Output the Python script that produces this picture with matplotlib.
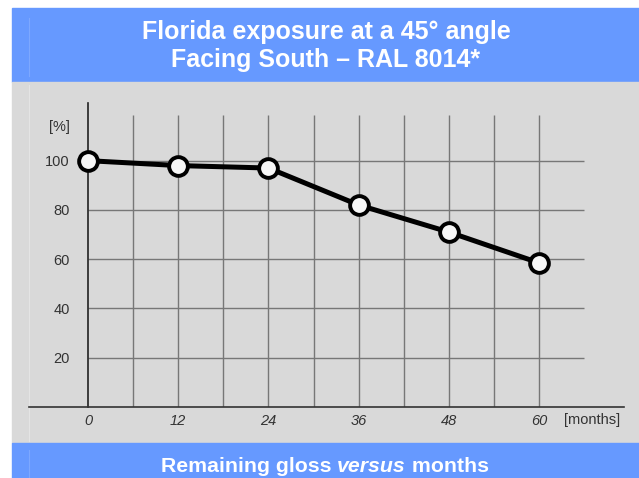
import matplotlib
matplotlib.use("Agg")
import matplotlib.pyplot as plt
from matplotlib.patches import Rectangle
from matplotlib.lines import Line2D

# data
months = [0, 12, 24, 36, 48, 60]
gloss = [100, 98, 97, 82, 71, 58.5]
x_grid = [6, 12, 18, 24, 30, 36, 42, 48, 54, 60]
y_grid = [20, 40, 60, 80, 100]
x_ticks = [0, 12, 24, 36, 48, 60]
y_ticks = [20, 40, 60, 80, 100]
title_lines = ["Florida exposure at a 45\u00b0 angle", "Facing South \u2013 RAL 8014*"]

W, H = 639, 478
BLUE = "#6699FF"
PANEL = "#D9D9D9"
plt.rcParams["font.family"] = ["Liberation Sans", "DejaVu Sans"]

fig = plt.figure(figsize=(W / 100, H / 100), dpi=100)
fig.patch.set_facecolor("white")


def fx(px):
    return px / W


def fy(py):
    return 1 - py / H


# background blocks (pixel based)
def block(x0, y0, x1, y1, color):
    fig.patches.append(Rectangle((fx(x0), fy(y1)), fx(x1) - fx(x0), fy(y0) - fy(y1),
                                 transform=fig.transFigure, color=color, zorder=-10))


block(12, 8, W, 82, BLUE)
block(12, 82, W, 443, PANEL)
block(12, 443, W, H, BLUE)
# faint guide lines seen on the slide
for y0, y1, c in [(18, 76, "#7DA8FF"), (85, 441, "#E4E4E4"), (450, H, "#7DA8FF")]:
    fig.lines.append(Line2D([fx(28.5), fx(28.5)], [fy(y0), fy(y1)],
                            transform=fig.transFigure, color=c, lw=0.8, zorder=-5))

# main axes: pixel box 29..624 x 103..407
ax = fig.add_axes([fx(29), fy(407), fx(624) - fx(29), fy(103) - fy(407)])
ax.set_facecolor("none")
ax.set_xlim(-7.85, 71.3)
ax.set_ylim(0, 123.4)
for s in ["top", "right"]:
    ax.spines[s].set_visible(False)
ax.spines["left"].set_position(("data", 0))
ax.spines["left"].set_color("#222222")
ax.spines["left"].set_linewidth(1.2)
ax.spines["bottom"].set_color("#333333")
ax.spines["bottom"].set_linewidth(1.2)

ax.vlines(x_grid, 0, 118.6, color="#777777", lw=1.0, zorder=1)
ax.hlines(y_grid, 0, 66, color="#777777", lw=1.0, zorder=1)

ax.plot(months, gloss, color="black", lw=3.6, marker="o", ms=13.5,
        mfc="#f7f7f7", mec="black", mew=2.8, zorder=3, clip_on=False)

ax.set_yticks(y_ticks)
ax.set_yticklabels([str(v) for v in y_ticks], fontsize=10.5, color="#333333")
ax.set_xticks(x_ticks)
ax.set_xticklabels([str(v) for v in x_ticks], fontsize=10.5, color="#333333", style="italic")
ax.tick_params(axis="y", length=0, pad=13)
ax.tick_params(axis="x", length=0, pad=5)
ax.get_xticklabels()[0].set_x(-0.6)

fig.text(fx(70), fy(127), "[%]", ha="right", va="center", fontsize=10.5, color="#333333")
fig.text(fx(592), fy(420), "[months]", ha="center", va="center", fontsize=10.5, color="#333333")

# title banner
for i, line in enumerate(title_lines):
    fig.text(fx(326), fy(39.5 + 27.5 * i), line, ha="center", va="baseline",
             fontsize=18, fontweight="bold", color="white")

# bottom caption with italic middle word
parts = [("Remaining gloss ", "normal"), ("versus", "italic"), (" months", "normal")]
texts = [fig.text(0, fy(472), p, ha="left", va="baseline", fontsize=15.3,
                  fontweight="bold", style=st, color="white") for p, st in parts]
fig.canvas.draw()
r = fig.canvas.get_renderer()
widths = [t.get_window_extent(r).width for t in texts]
x = 325 - sum(widths) / 2
for t, w in zip(texts, widths):
    t.set_x(fx(x))
    x += w

fig.savefig("out.png", dpi=100)
